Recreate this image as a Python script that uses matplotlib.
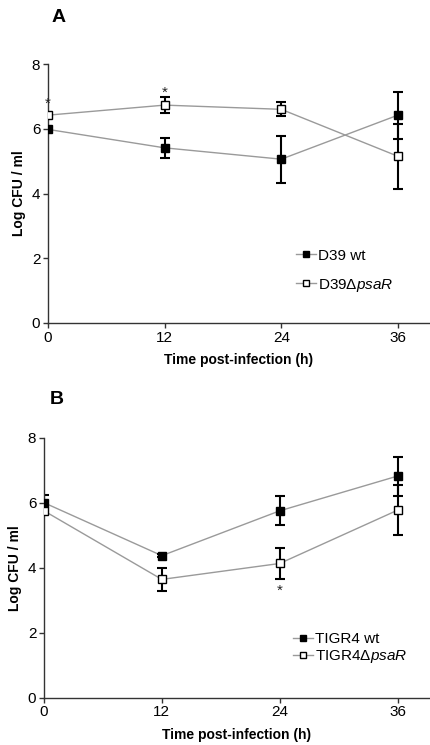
import matplotlib
matplotlib.use("Agg")
import matplotlib.pyplot as plt

plt.rcParams['font.family'] = ['Liberation Sans', 'DejaVu Sans']
plt.rcParams['mathtext.fontset'] = 'custom'
plt.rcParams['mathtext.rm'] = 'Liberation Sans'
plt.rcParams['mathtext.it'] = 'Liberation Sans:italic'
plt.rcParams['mathtext.bf'] = 'Liberation Sans:bold'

time_h = [0, 12, 24, 36]
xticks = [0, 12, 24, 36]
yticks = [0, 2, 4, 6, 8]

# Panel A
d39_wt = [5.98, 5.41, 5.06, 6.42]
d39_wt_err = [0.05, 0.30, 0.73, 0.73]
d39_psaR = [6.42, 6.73, 6.60, 5.15]
d39_psaR_err = [0.05, 0.25, 0.22, 1.00]
a_star_x = [0, 12]
a_star_y = [6.78, 7.12]

# Panel B
tigr4_wt = [6.00, 4.37, 5.75, 6.82]
tigr4_wt_err = [0.24, 0.05, 0.45, 0.60]
tigr4_psaR = [5.75, 3.64, 4.13, 5.77]
tigr4_psaR_err = [0.05, 0.35, 0.48, 0.76]
b_star_x = [24]
b_star_y = [3.30]

fig = plt.figure(figsize=(4.3, 7.45), dpi=100)

def panel(rect, y1, e1, y2, e2, lab1, lab2, star_x, star_y, letter, letter_xy, legend_loc, labelspacing):
    ax = fig.add_axes(rect)
    ax.plot(time_h, y1, color='#9a9a9a', lw=1.0, zorder=1)
    ax.plot(time_h, y2, color='#9a9a9a', lw=1.0, zorder=1)
    ax.errorbar(time_h, y1, yerr=e1, fmt='none', ecolor='black', elinewidth=1.5, capsize=3.5, capthick=1.5, zorder=2)
    ax.errorbar(time_h, y2, yerr=e2, fmt='none', ecolor='black', elinewidth=1.5, capsize=3.5, capthick=1.5, zorder=2)
    ax.plot(time_h, y1, ls='none', marker='s', ms=6, mfc='black', mec='black', zorder=3)
    ax.plot(time_h, y2, ls='none', marker='s', ms=6, mfc='white', mec='black', mew=1.0, zorder=3)
    for sx, sy in zip(star_x, star_y):
        ax.text(sx, sy, '*', ha='center', va='center', fontsize=11, color='#222222')
    h1, = ax.plot([], [], color='#9a9a9a', lw=1.0, marker='s', ms=5, mfc='black', mec='black')
    h2, = ax.plot([], [], color='#9a9a9a', lw=1.0, marker='s', ms=5, mfc='white', mec='black')
    ax.legend([h1, h2], [lab1, lab2], loc='upper left', bbox_to_anchor=legend_loc,
              frameon=False, fontsize=11, handlelength=1.3, handletextpad=0.15,
              labelspacing=labelspacing, borderaxespad=0)
    ax.set_xlim(0, 39.2)
    ax.set_ylim(0, 8)
    ax.set_xticks(xticks)
    ax.set_yticks(yticks)
    for s in ['top', 'right']:
        ax.spines[s].set_visible(False)
    for s in ['left', 'bottom']:
        ax.spines[s].set_linewidth(1.0)
        ax.spines[s].set_color('#333333')
    ax.tick_params(direction='out', length=3.5, width=1.0, labelsize=11, pad=2, colors='#333333', labelcolor='black')
    ax.set_xlabel('Time post-infection (h)', fontsize=10, fontweight='bold', labelpad=6)
    ax.set_ylabel('Log CFU / ml', fontsize=10, fontweight='bold', labelpad=4)
    fig.text(letter_xy[0] / 430, 1 - letter_xy[1] / 745, letter, fontsize=14, fontweight='bold',
             ha='center', va='center')
    return ax

panel([48 / 430, (745 - 323) / 745, (429 - 48) / 430, 259 / 745],
      d39_wt, d39_wt_err, d39_psaR, d39_psaR_err,
      'D39 wt', r'D39$\Delta\mathit{psaR}$', a_star_x, a_star_y, 'A', (59, 18),
      (0.635, 0.31), 0.9)

panel([44 / 430, (745 - 697.7) / 745, (429 - 44) / 430, 260 / 745],
      tigr4_wt, tigr4_wt_err, tigr4_psaR, tigr4_psaR_err,
      'TIGR4 wt', r'TIGR4$\Delta\mathit{psaR}$', b_star_x, b_star_y, 'B', (57, 400),
      (0.63, 0.275), 0.12)

fig.savefig('out.png', dpi=100)
